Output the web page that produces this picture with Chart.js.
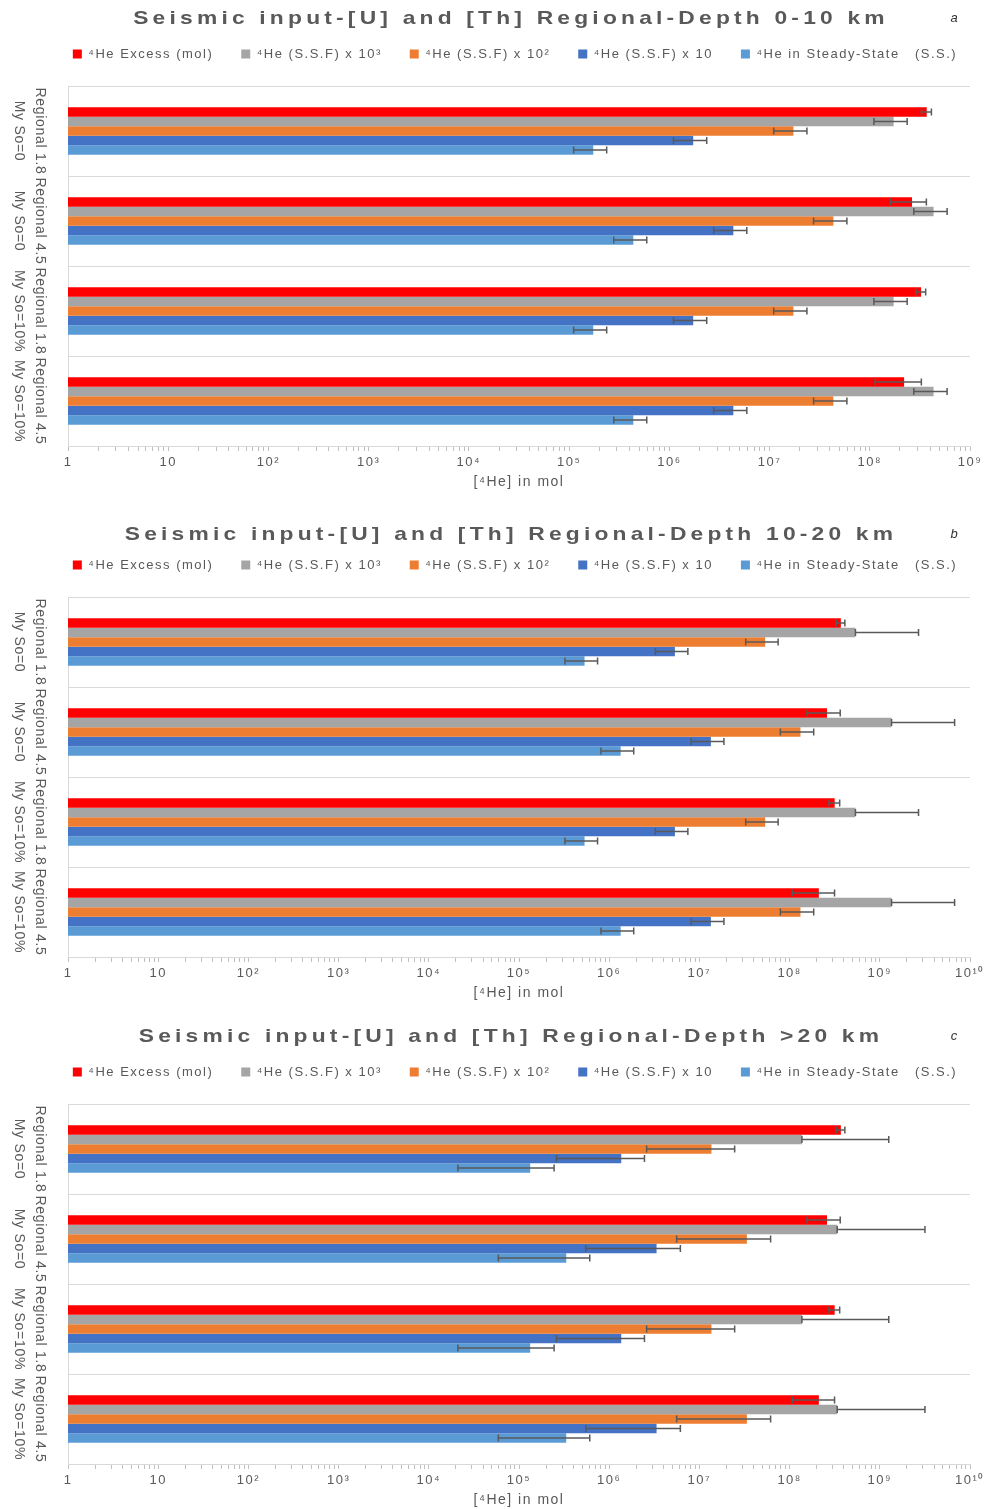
<!DOCTYPE html>
<html>
<head>
<meta charset="utf-8">
<script src="https://cdn.jsdelivr.net/npm/chart.js@4.4.1/dist/chart.umd.min.js"></script>
<style>
  body { margin: 0; background: #fff; }
  .panel { position: absolute; left: 0; width: 989px; height: 491px; }
</style>
</head>
<body>
<div class="panel" style="top:0"><canvas id="chartA" width="989" height="491"></canvas></div>
<div class="panel" style="top:511px"><canvas id="chartB" width="989" height="491"></canvas></div>
<div class="panel" style="top:1018px"><canvas id="chartC" width="989" height="491"></canvas></div>
<script>
const categories = [
  ['Regional 1.8', 'My So=0'],
  ['Regional 4.5', 'My So=0'],
  ['Regional 1.8', 'My So=10%'],
  ['Regional 4.5', 'My So=10%']
];
const seriesLabels = ['⁴He Excess (mol)', '⁴He (S.S.F) x 10³', '⁴He (S.S.F) x 10²', '⁴He (S.S.F) x 10', '⁴He in Steady-State   (S.S.)'];
const ticksA = ['1', '10', '10²', '10³', '10⁴', '10⁵', '10⁶', '10⁷', '10⁸', '10⁹'];
const ticksBC = ['1', '10', '10²', '10³', '10⁴', '10⁵', '10⁶', '10⁷', '10⁸', '10⁹', '10¹⁰'];

// a: depth 0-10 km
const excessA = [3.7e8, 2.64e8, 3.25e8, 2.2e8];
const excessErrA = [0.42e8, 1.03e8, 0.36e8, 1.07e8];
const ssf3A = [1.73e8, 4.33e8, 1.73e8, 4.33e8];
const ssf3ErrA = [0.63e8, 1.58e8, 0.63e8, 1.58e8];
const ssf2A = [1.73e7, 4.33e7, 1.73e7, 4.33e7];
const ssf2ErrA = [0.63e7, 1.58e7, 0.63e7, 1.58e7];
const ssf1A = [1.73e6, 4.35e6, 1.73e6, 4.35e6];
const ssf1ErrA = [0.63e6, 1.58e6, 0.63e6, 1.58e6];
const ssA = [1.74e5, 4.37e5, 1.74e5, 4.37e5];
const ssErrA = [0.63e5, 1.58e5, 0.63e5, 1.58e5];

// b: depth 10-20 km
const excessB = [3.7e8, 2.6e8, 3.16e8, 2.11e8];
const excessErrB = [0.4e8, 1.04e8, 0.43e8, 1.04e8];
const ssf3B = [5.37e8, 1.35e9, 5.37e8, 1.35e9];
const ssf3ErrB = [2.15e9, 5.4e9, 2.15e9, 5.4e9];
const ssf2B = [5.36e7, 1.32e8, 5.36e7, 1.32e8];
const ssf2ErrB = [2.1e7, 5.3e7, 2.1e7, 5.3e7];
const ssf1B = [5.35e6, 1.34e7, 5.35e6, 1.34e7];
const ssf1ErrB = [2.1e6, 5.3e6, 2.1e6, 5.3e6];
const ssB = [5.33e5, 1.34e6, 5.33e5, 1.34e6];
const ssErrB = [2.1e5, 5.3e5, 2.1e5, 5.3e5];

// c: depth >20 km
const excessC = [3.7e8, 2.6e8, 3.16e8, 2.11e8];
const excessErrC = [0.4e8, 1.04e8, 0.43e8, 1.04e8];
const ssf3C = [1.37e8, 3.37e8, 1.37e8, 3.37e8];
const ssf3ErrC = [1.12e9, 2.83e9, 1.12e9, 2.83e9];
const ssf2C = [1.36e7, 3.36e7, 1.36e7, 3.36e7];
const ssf2ErrC = [1.1e7, 2.8e7, 1.1e7, 2.8e7];
const ssf1C = [1.36e6, 3.35e6, 1.36e6, 3.35e6];
const ssf1ErrC = [1.1e6, 2.8e6, 1.1e6, 2.8e6];
const ssC = [1.33e5, 3.34e5, 1.33e5, 3.34e5];
const ssErrC = [1.12e5, 2.75e5, 1.12e5, 2.75e5];

const seriesColors = ['#FF0000', '#A5A5A5', '#ED7D31', '#4472C4', '#5B9BD5'];
const FONT = '"Liberation Sans", Arial, sans-serif';
const TEXT = '#595959';

Chart.defaults.font.family = FONT;
Chart.defaults.color = TEXT;

// wide text like the original
const spacing = {
  id: 'spacing',
  beforeUpdate(chart) { chart.ctx.letterSpacing = '1.5px'; },
  beforeDraw(chart) { chart.ctx.letterSpacing = '1.5px'; }
};

const errorBars = {
  id: 'errorBars',
  afterDatasetsDraw(chart) {
    const ctx = chart.ctx;
    const xs = chart.scales.x;
    ctx.save();
    ctx.strokeStyle = '#595959';
    ctx.lineWidth = 1.5;
    chart.data.datasets.forEach((ds, i) => {
      chart.getDatasetMeta(i).data.forEach((bar, j) => {
        const v = ds.data[j], e = ds.errors[j];
        // lower end below the axis minimum cannot be shown on log scale
        const x0 = v - e > xs.min ? xs.getPixelForValue(v - e) : xs.getPixelForValue(v);
        const x1 = xs.getPixelForValue(v + e);
        const y = bar.y, h = 3.5;
        ctx.beginPath();
        ctx.moveTo(x0, y); ctx.lineTo(x1, y);
        ctx.moveTo(x0, y - h); ctx.lineTo(x0, y + h);
        ctx.moveTo(x1, y - h); ctx.lineTo(x1, y + h);
        ctx.stroke();
      });
    });
    ctx.restore();
  }
};

// category names, turned to read top-down, two lines per category
const yLabels = {
  id: 'yLabels',
  afterDraw(chart) {
    const ctx = chart.ctx;
    const ys = chart.scales.y;
    ctx.save();
    ctx.fillStyle = TEXT;
    ctx.font = '14px ' + FONT;
    ctx.letterSpacing = '0.7px';
    ctx.textAlign = 'center';
    ctx.textBaseline = 'middle';
    chart.data.labels.forEach((lines, i) => {
      const y = ys.getPixelForValue(i);
      lines.forEach((line, k) => {
        ctx.save();
        ctx.translate(40 - 21 * k, y);
        ctx.rotate(Math.PI / 2);
        ctx.fillText(line, 0, 0);
        ctx.restore();
      });
    });
    ctx.restore();
  }
};

const panelTitle = {
  id: 'panelTitle',
  afterDraw(chart, args, opts) {
    const ctx = chart.ctx;
    ctx.save();
    ctx.fillStyle = TEXT;
    ctx.font = 'bold 19px ' + FONT;
    ctx.letterSpacing = '3.5px';
    ctx.textAlign = 'center';
    ctx.textBaseline = 'middle';
    ctx.translate(511, opts.y);
    ctx.scale(1.2, 1);
    ctx.fillText(opts.text, 0, 0);
    ctx.restore();
    ctx.save();
    ctx.fillStyle = '#333';
    ctx.font = 'italic 13px ' + FONT;
    ctx.letterSpacing = '0px';
    ctx.textAlign = 'center';
    ctx.textBaseline = 'middle';
    ctx.fillText(opts.letter, 954, opts.y);
    ctx.restore();
  }
};

function makeChart(id, title, letter, titleY, tickLabels, values, errors) {
  const xMax = Math.pow(10, tickLabels.length - 1);
  new Chart(document.getElementById(id), {
    type: 'bar',
    data: {
      labels: categories,
      datasets: seriesLabels.map((label, i) => ({
        label: label,
        data: values[i],
        errors: errors[i],
        backgroundColor: seriesColors[i],
        borderWidth: 0,
        categoryPercentage: 0.53,
        barPercentage: 1
      }))
    },
    options: {
      indexAxis: 'y',
      responsive: false,
      animation: false,
      devicePixelRatio: 1,
      layout: { padding: { top: 19.5, left: 41, right: 0, bottom: 0 } },
      plugins: {
        legend: {
          position: 'top',
          labels: { boxWidth: 9, boxHeight: 9, padding: 28, color: TEXT, font: { size: 13 } }
        },
        tooltip: { enabled: false },
        panelTitle: { text: title, letter: letter, y: titleY }
      },
      scales: {
        x: {
          type: 'logarithmic',
          min: 1,
          max: xMax,
          grid: { drawOnChartArea: false, drawTicks: true, tickLength: 5, tickColor: '#bfbfbf' },
          border: { color: '#d9d9d9' },
          afterBuildTicks(scale) {
            const t = [];
            for (let k = 0; k < tickLabels.length - 1; k++) {
              for (let m = 1; m < 10; m++) t.push({ value: m * Math.pow(10, k) });
            }
            t.push({ value: xMax });
            scale.ticks = t;
          },
          ticks: {
            autoSkip: false,
            maxRotation: 0,
            minRotation: 0,
            padding: 4,
            color: TEXT,
            font: { size: 13 },
            callback(value) {
              const k = Math.round(Math.log10(value));
              return Math.abs(value - Math.pow(10, k)) < 1e-6 * value ? tickLabels[k] : '';
            }
          },
          title: { display: true, text: '[⁴He] in mol', color: TEXT, font: { size: 14 }, padding: 0 },
          afterFit(scale) {
            scale.height = 45;
            scale.paddingRight = 19;
            scale.paddingLeft = 0;
          }
        },
        // empty top axis: keeps a gap between legend and plot
        gap: {
          type: 'linear',
          position: 'top',
          grid: { display: false },
          border: { display: false },
          ticks: { display: false },
          afterFit(scale) { scale.height = 15.5; }
        },
        y: {
          grid: { color: '#d9d9d9', drawTicks: false, offset: true },
          border: { color: '#d9d9d9' },
          ticks: { display: false, autoSkip: false },
          afterFit(scale) {
            scale.width = 27;
            scale.paddingTop = 0;
            scale.paddingBottom = 0;
          }
        }
      }
    },
    plugins: [spacing, errorBars, yLabels, panelTitle]
  });
}

makeChart('chartA', 'Seismic input-[U] and [Th] Regional-Depth 0-10 km', 'a', 18.5, ticksA,
  [excessA, ssf3A, ssf2A, ssf1A, ssA],
  [excessErrA, ssf3ErrA, ssf2ErrA, ssf1ErrA, ssErrA]);
makeChart('chartB', 'Seismic input-[U] and [Th] Regional-Depth 10-20 km', 'b', 23.5, ticksBC,
  [excessB, ssf3B, ssf2B, ssf1B, ssB],
  [excessErrB, ssf3ErrB, ssf2ErrB, ssf1ErrB, ssErrB]);
makeChart('chartC', 'Seismic input-[U] and [Th] Regional-Depth >20 km', 'c', 18.5, ticksBC,
  [excessC, ssf3C, ssf2C, ssf1C, ssC],
  [excessErrC, ssf3ErrC, ssf2ErrC, ssf1ErrC, ssErrC]);
</script>
</body>
</html>
